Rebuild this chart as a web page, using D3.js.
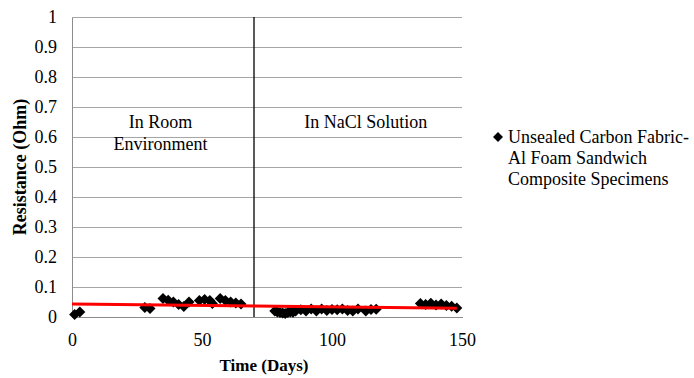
<!DOCTYPE html>
<html>
<head>
<meta charset="utf-8">
<script src="https://cdn.jsdelivr.net/npm/d3@7/dist/d3.min.js"></script>
<style>
  html, body { margin: 0; padding: 0; background: #fff; }
  svg { display: block; }
</style>
</head>
<body>
<svg id="chart" width="694" height="378"></svg>
<script>
// Resistance measurements: days since start, resistance in ohm
const roomDays = [1, 3, 28, 30, 35, 37, 39, 41, 43, 45, 49, 51, 53, 54, 57, 59, 61, 63, 65];
const roomOhm  = [0.008, 0.017, 0.032, 0.028, 0.062, 0.056, 0.05, 0.042, 0.035, 0.05, 0.055, 0.058, 0.055, 0.045, 0.062, 0.055, 0.05, 0.047, 0.043];

const naclDays = [78, 79, 80, 81, 82, 83, 84, 85, 86, 88, 90, 92, 94, 96, 98, 100, 102, 104, 106, 108, 110, 113, 115, 117,
                  134, 136, 138, 140, 142, 144, 146, 148];
const naclOhm  = [0.02, 0.017, 0.015, 0.013, 0.012, 0.015, 0.017, 0.016, 0.02, 0.024, 0.02, 0.027, 0.02, 0.027, 0.022, 0.025,
                  0.024, 0.027, 0.022, 0.02, 0.027, 0.02, 0.025, 0.026,
                  0.045, 0.042, 0.046, 0.04, 0.043, 0.038, 0.036, 0.03];

// Linear trend endpoints (day, ohm)
const trendDays = [0, 148];
const trendOhm  = [0.043, 0.029];

// Day at which specimens moved from room air to the NaCl bath
const dividerDay = 70;

const xTicks = [0, 50, 100, 150];
const yTicks = [0, 0.1, 0.2, 0.3, 0.4, 0.5, 0.6, 0.7, 0.8, 0.9, 1];

const seriesName = ["Unsealed Carbon Fabric-", "Al Foam Sandwich", "Composite Specimens"];
const regionLabels = [
  { day: 34, ohm: 0.63, lines: ["In Room", "Environment"] },
  { day: 113, ohm: 0.63, lines: ["In NaCl Solution"] }
];

const FONT = "'Liberation Serif', 'Times New Roman', serif";

const svg = d3.select("#chart");
const margin = { left: 72, right: 232, top: 17, bottom: 61 };
const W = 694, H = 378;

const x = d3.scaleLinear().domain([0, 150]).range([margin.left, W - margin.right]);
const y = d3.scaleLinear().domain([0, 1]).range([H - margin.bottom, margin.top]);

// horizontal gridlines
svg.append("g")
  .selectAll("line")
  .data(yTicks.filter(v => v > 0))
  .join("line")
  .attr("x1", x(0)).attr("x2", x(150))
  .attr("y1", d => y(d)).attr("y2", d => y(d))
  .attr("stroke", "#a6a6a6").attr("stroke-width", 1)
  .attr("shape-rendering", "crispEdges");

// axes
const yAxis = svg.append("g")
  .attr("transform", `translate(${x(0)},0)`)
  .call(d3.axisLeft(y).tickValues(yTicks).tickSize(0).tickPadding(15)
        .tickFormat(d => d3.format("~g")(d)));
const xAxis = svg.append("g")
  .attr("transform", `translate(0,${y(0)})`)
  .call(d3.axisBottom(x).tickValues(xTicks).tickSize(0).tickPadding(16));

[yAxis, xAxis].forEach(g => {
  g.select(".domain").attr("stroke", "#8c8c8c").attr("shape-rendering", "crispEdges");
  g.selectAll("text").style("font-family", FONT).style("font-size", "18px").attr("fill", "#000");
});

// phase divider
svg.append("line")
  .attr("x1", x(dividerDay)).attr("x2", x(dividerDay))
  .attr("y1", y(1)).attr("y2", y(0))
  .attr("stroke", "#000").attr("stroke-width", 1.3);

// data points as square diamonds
const diamond = r => `M0,${-r}L${r},0L0,${r}L${-r},0Z`;
const points = roomDays.map((d, i) => [d, roomOhm[i]])
  .concat(naclDays.map((d, i) => [d, naclOhm[i]]));
svg.append("g")
  .selectAll("path")
  .data(points)
  .join("path")
  .attr("d", diamond(5.5))
  .attr("transform", d => `translate(${x(d[0])},${y(d[1])})`)
  .attr("fill", "#000");

// trend line
svg.append("path")
  .datum(trendDays.map((d, i) => [d, trendOhm[i]]))
  .attr("d", d3.line().x(d => x(d[0])).y(d => y(d[1])))
  .attr("stroke", "#f00").attr("stroke-width", 3).attr("fill", "none");

// region labels
regionLabels.forEach(lbl => {
  const t = svg.append("text")
    .attr("text-anchor", "middle")
    .style("font-family", FONT).style("font-size", "18px");
  lbl.lines.forEach((s, i) => {
    t.append("tspan").attr("x", x(lbl.day)).attr("y", y(lbl.ohm) + i * 22).text(s);
  });
});

// axis titles
svg.append("text")
  .attr("x", (x(0) + x(150)) / 2 - 3).attr("y", 371)
  .attr("text-anchor", "middle")
  .style("font-family", FONT).style("font-weight", "bold").style("font-size", "17px")
  .text("Time (Days)");
svg.append("text")
  .attr("transform", `translate(26,${(y(0) + y(1)) / 2}) rotate(-90)`)
  .attr("text-anchor", "middle")
  .style("font-family", FONT).style("font-weight", "bold").style("font-size", "18px")
  .text("Resistance (Ohm)");

// legend
const lg = svg.append("g").attr("transform", "translate(498,137)");
lg.append("path").attr("d", diamond(5)).attr("fill", "#000");
const lt = lg.append("text").style("font-family", FONT).style("font-size", "18px");
seriesName.forEach((s, i) => {
  lt.append("tspan").attr("x", 10).attr("y", 6 + i * 21).text(s);
});
</script>
</body>
</html>
